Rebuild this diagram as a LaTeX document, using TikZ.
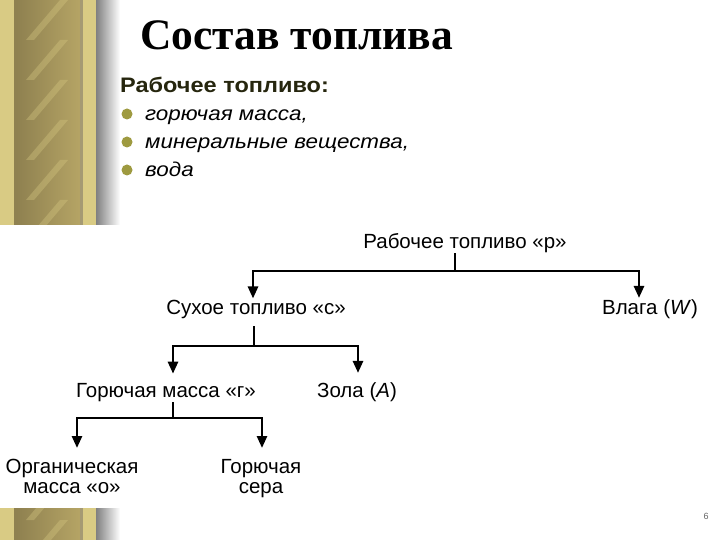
\documentclass[tikz,border=0pt]{standalone}
\usepackage{fontspec}
\setmainfont{Liberation Serif}
\setsansfont{Liberation Sans}
\newfontfamily\widesans{Liberation Sans}[FakeStretch=1.12]
\usetikzlibrary{arrows.meta}
\definecolor{goldlight}{HTML}{D9CB84}
\definecolor{goldmid}{HTML}{B5A465}
\definecolor{golddark}{HTML}{8F8150}
\definecolor{olive}{HTML}{9E9A40}
\definecolor{headtext}{HTML}{26260E}
\begin{document}
\begin{tikzpicture}[x=1pt, y=-1pt,
    conn/.style={line width=2.6pt},
    arr/.style={conn, -{Triangle[width=10pt,length=12pt]}},
    lbl/.style={font=\sffamily\fontsize{20.5}{20}\selectfont, inner sep=1pt, align=center},
    item/.style={font=\widesans\itshape\fontsize{20}{24}\selectfont, anchor=base west, inner sep=0pt}]
    \useasboundingbox (0,0) rectangle (720,540);
    \fill[white] (0,0) rectangle (720,540);
    % golden column at the left edge
    \foreach \ya/\yb in {0/225, 508/540} {
        \fill[goldlight] (0,\ya) rectangle (96,\yb);
        \shade[left color=golddark, right color=goldmid] (17,\ya) rectangle (80,\yb);
        \begin{scope}
            \clip (17,\ya) rectangle (80,\yb);
            \foreach \s in {-40,0,...,560}
                \fill[goldlight, opacity=.35] (26,\s+40) -- (60,\s) -- (68,\s) -- (34,\s+40) -- cycle;
        \end{scope}
        \fill[golddark] (14,\ya) rectangle (17,\yb);
        \fill[golddark!80] (80,\ya) rectangle (83,\yb);
        \shade[left color=black!50, right color=white] (96,\ya) rectangle (120,\yb);
    }
    % title and list
    \node[anchor=base west, inner sep=0pt, font=\bfseries\fontsize{43.5}{48}\selectfont] (T) at (140,50) {Состав топлива};
    \node[anchor=base west, inner sep=0pt, text=headtext, font=\widesans\bfseries\fontsize{21}{24}\selectfont] (H) at (120,93) {Рабочее топливо:};
    \node[item] (i1) at (145,121) {горючая масса,};
    \node[item] (i2) at (145,149) {минеральные вещества,};
    \node[item] (i3) at (145,177) {вода};
    \foreach \y in {121,149,177}
        \fill[olive] (127,\y-7) circle (5.5);
    % tree
    \node[lbl, anchor=base] (P) at (465,248) {Рабочее топливо «р»};
    \node[lbl, anchor=base] (C) at (256,314) {Сухое топливо «с»};
    \node[lbl, anchor=base] (W) at (650,314) {Влага (\textit{W})};
    \node[lbl, anchor=base] (G) at (166,397) {Горючая масса «г»};
    \node[lbl, anchor=base] (Z) at (357,397) {Зола (\textit{A})};
    \node[lbl, anchor=north] (O) at (72,458) {Органическая\\масса «о»};
    \node[lbl, anchor=north] (S) at (261,458) {Горючая\\сера};
    \coordinate (j1) at (455,271);
    \coordinate (j2) at (254,346);
    \coordinate (j3) at (173,418);
    \draw[conn] (j1 |- P.south) -- (j1);
    \draw[arr] (j1) -| ([xshift=-3pt]C.north);
    \draw[arr] (j1) -| ([xshift=-11pt]W.north);
    \draw[conn, shorten <=7pt] (j2 |- C.south) -- (j2);
    \draw[arr, shorten >=8pt] (j2) -| ([xshift=7pt]G.north);
    \draw[arr, shorten >=8pt] (j2) -| ([xshift=1pt]Z.north);
    \draw[conn] (j3 |- G.south) -- (j3);
    \draw[arr, shorten >=10pt] (j3) -| ([xshift=5pt]O.north);
    \draw[arr, shorten >=10pt] (j3) -| ([xshift=1pt]S.north);
    % page number
    \node[text=black!60, font=\sffamily\fontsize{9}{10}\selectfont] (N) at (706,516) {6};
\end{tikzpicture}
\end{document}
